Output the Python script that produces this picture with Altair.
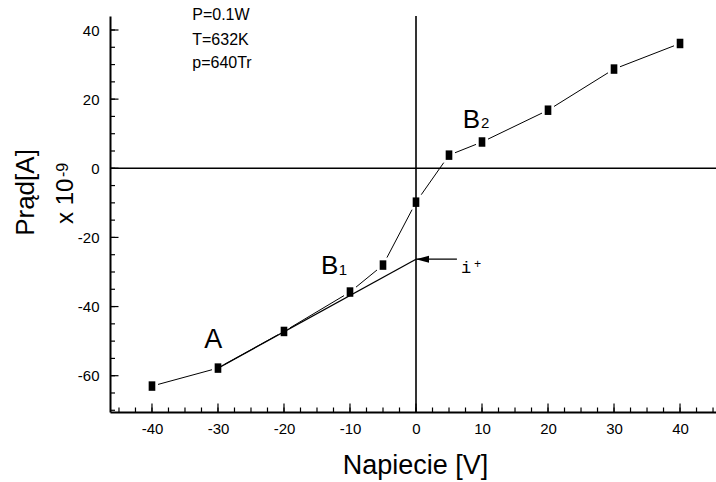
import altair as alt
import pandas as pd

# ---- data ----
voltage = [-40, -30, -20, -10, -5, 0, 5, 10, 20, 30, 40]
current = [-63.0, -57.8, -47.2, -35.8, -28.0, -9.8, 3.8, 7.6, 16.8, 28.7, 36.1]

tangent_v = [-30, 0]
tangent_i = [-57.8, -26.3]

arrow_v = [0.0, 6.2]
arrow_i = [-26.3, -26.3]

x_label_values = [-40, -30, -20, -10, 0, 10, 20, 30, 40]
y_label_values = [-60, -40, -20, 0, 20, 40]
x_minor_ticks = [-45, -42.5, -40, -37.5, -35, -32.5, -30, -27.5, -25, -22.5, -20, -17.5,
                 -15, -12.5, -10, -7.5, -5, -2.5, 0, 2.5, 5, 7.5, 10, 12.5, 15, 17.5,
                 20, 22.5, 25, 27.5, 30, 32.5, 35, 37.5, 40, 42.5, 45]
y_minor_ticks = [-70, -65, -60, -55, -50, -45, -40, -35, -30, -25, -20, -15, -10, -5,
                 0, 5, 10, 15, 20, 25, 30, 35, 40]

info_text = ["P=0.1W", "T=632K", "p=640Tr"]
info_v = [-33.9, -33.9, -33.9]
info_i = [43.0, 35.8, 28.9]

big_labels = ["A", "B", "B"]
big_v = [-30.7, -14.4, 7.1]
big_i = [-52.1, -30.6, 11.6]

sub_labels = ["1", "2"]
sub_v = [-11.7, 9.85]
sub_i = [-30.9, 11.6]

X_DOMAIN = [-46.36, 45.45]
Y_DOMAIN = [-70.5, 44.05]
W, H = 606, 396
FONT = "Liberation Sans"

xs = alt.Scale(domain=X_DOMAIN, nice=False, zero=False)
ys = alt.Scale(domain=Y_DOMAIN, nice=False, zero=False)

x_axis = alt.Axis(values=x_label_values, ticks=False, grid=False,
                  domainColor="black", domainWidth=2,
                  labelFont=FONT, labelFontSize=15, labelColor="black",
                  labelPadding=9, labelExpr="'' + datum.value",
                  title="Napiecie [V]", titleFont=FONT, titleFontSize=27,
                  titleFontWeight="normal", titleColor="black",
                  titleBaseline="alphabetic", titleY=61, titleX=305)
y_axis = alt.Axis(values=y_label_values, ticks=False, grid=False,
                  domainColor="black", domainWidth=2,
                  labelFont=FONT, labelFontSize=15, labelColor="black",
                  labelPadding=11, labelExpr="'' + datum.value",
                  title="Prąd[A]", titleFont=FONT, titleFontSize=26,
                  titleFontWeight="normal", titleColor="black",
                  titleAngle=-90, titleAlign="center",
                  titleBaseline="alphabetic", titleX=-77, titleY=176)


def X(field):
    return alt.X(field, type="quantitative", scale=xs, axis=x_axis)


def Y(field):
    return alt.Y(field, type="quantitative", scale=ys, axis=y_axis)


df = pd.DataFrame({"v": voltage, "i": current})
df_tan = pd.DataFrame({"v": tangent_v, "i": tangent_i})

# axes carrier layer
axes = alt.Chart(df).mark_point(opacity=0).encode(x=X("v"), y=Y("i"))

# inward ticks
xt_minor = alt.Chart(pd.DataFrame({"v": x_minor_ticks})).mark_rule(
    color="black", strokeWidth=1.2).encode(
    x=X("v"), y=alt.value(H), y2=alt.value(H - 4.5))
xt_major = alt.Chart(pd.DataFrame({"v": x_label_values})).mark_rule(
    color="black", strokeWidth=1.2).encode(
    x=X("v"), y=alt.value(H), y2=alt.value(H - 8.5))
yt_minor = alt.Chart(pd.DataFrame({"i": y_minor_ticks})).mark_rule(
    color="black", strokeWidth=1.2).encode(
    y=Y("i"), x=alt.value(0), x2=alt.value(5))
yt_major = alt.Chart(pd.DataFrame({"i": y_label_values})).mark_rule(
    color="black", strokeWidth=1.2).encode(
    y=Y("i"), x=alt.value(0), x2=alt.value(8.5))

# data line
line = alt.Chart(df).mark_line(color="black", strokeWidth=1).encode(
    x=X("v"), y=Y("i"), order="v:Q")

halo_shape = "M-0.8,-1 L0.8,-1 L0.8,1 L-0.8,1 Z"
halos = alt.Chart(df).mark_point(shape=halo_shape, filled=True, color="white",
                                 opacity=1, size=225, strokeWidth=0).encode(
    x=X("v"), y=Y("i"))

# cross-hair through the origin
hline = alt.Chart(pd.DataFrame({"i": [0]})).mark_rule(color="black", strokeWidth=1.6).encode(
    y=Y("i"))
vline = alt.Chart(pd.DataFrame({"v": [0]})).mark_rule(color="black", strokeWidth=1.6).encode(
    x=X("v"))

tangent = alt.Chart(df_tan).mark_line(color="black", strokeWidth=1.3).encode(
    x=X("v"), y=Y("i"))

marker_shape = "M-0.7,-1 L0.7,-1 L0.7,1 L-0.7,1 Z"
markers = alt.Chart(df).mark_point(shape=marker_shape, filled=True, color="black",
                                   opacity=1, size=90, strokeWidth=0).encode(
    x=X("v"), y=Y("i"))

# arrow for i+
arrow_df = pd.DataFrame({"v": [arrow_v[0]], "v2": [arrow_v[1]], "i": [arrow_i[0]]})
arrow_line = alt.Chart(arrow_df).mark_rule(color="black", strokeWidth=1.2).encode(
    x=X("v"), x2="v2:Q", y=Y("i"))
arrow_head = alt.Chart(arrow_df).mark_point(
    shape="M0,0 L2,-0.55 L2,0.55 Z", filled=True, color="black", opacity=1,
    size=169, strokeWidth=0).encode(x=X("v"), y=Y("i"))

i_text = alt.Chart(pd.DataFrame({"v": [7.58], "i": [-30.3], "t": ["i"]})).mark_text(
    font="Liberation Mono", fontSize=17, align="center", baseline="alphabetic",
    color="black").encode(x=X("v"), y=Y("i"), text="t:N")
plus_text = alt.Chart(pd.DataFrame({"v": [9.32], "i": [-27.8], "t": ["+"]})).mark_text(
    font="Liberation Mono", fontSize=12, align="center", baseline="middle",
    color="black").encode(x=X("v"), y=Y("i"), text="t:N")

# info block
info = alt.Chart(pd.DataFrame({"v": info_v, "i": info_i, "t": info_text})).mark_text(
    font=FONT, fontSize=16, align="left", baseline="alphabetic", color="black").encode(
    x=X("v"), y=Y("i"), text="t:N")

# region labels
big_df = pd.DataFrame({"v": big_v, "i": big_i, "t": big_labels})
big_center = alt.Chart(big_df.iloc[:1]).mark_text(
    font=FONT, fontSize=27, align="center", baseline="alphabetic", color="black").encode(
    x=X("v"), y=Y("i"), text="t:N")
big_left = alt.Chart(big_df.iloc[1:]).mark_text(
    font=FONT, fontSize=26, align="left", baseline="alphabetic", color="black").encode(
    x=X("v"), y=Y("i"), text="t:N")
subs = alt.Chart(pd.DataFrame({"v": sub_v, "i": sub_i, "t": sub_labels})).mark_text(
    font=FONT, fontSize=15, align="left", baseline="alphabetic", color="black").encode(
    x=X("v"), y=Y("i"), text="t:N")

# "x 10^-9" next to the y title
unit_main = alt.Chart(pd.DataFrame({"t": ["x 10"]})).mark_text(
    font=FONT, fontSize=24, angle=270, align="left", baseline="alphabetic",
    color="black").encode(x=alt.value(-36.7), y=alt.value(208), text="t:N")
unit_exp = alt.Chart(pd.DataFrame({"t": ["-9"]})).mark_text(
    font=FONT, fontSize=16, angle=270, align="left", baseline="alphabetic",
    color="black").encode(x=alt.value(-41.7), y=alt.value(161), text="t:N")

chart = alt.layer(
    axes, xt_minor, xt_major, yt_minor, yt_major,
    line, halos, hline, vline, tangent, markers,
    arrow_line, arrow_head, i_text, plus_text,
    info, big_center, big_left, subs, unit_main, unit_exp,
).properties(
    width=W, height=H,
    autosize=alt.AutoSizeParams(type="none"),
    padding={"left": 110, "top": 16, "right": 0, "bottom": 70},
    background="white",
).configure_view(stroke=None)

chart.save("out.html", embed_options={"renderer": "svg", "actions": False})
